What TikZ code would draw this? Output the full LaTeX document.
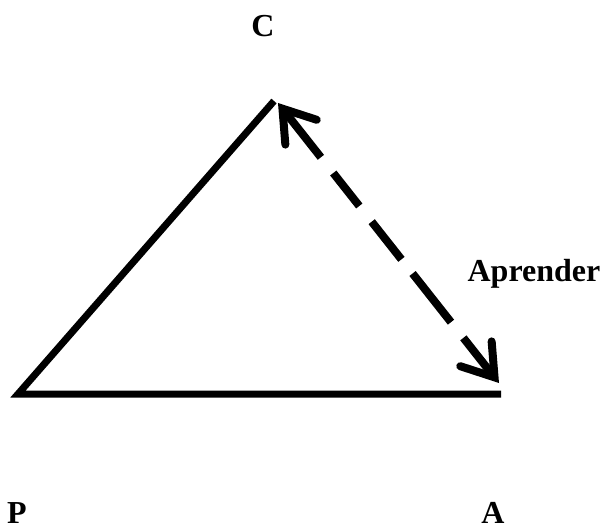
\documentclass[tikz,border=0pt]{standalone}
\usepackage{fontspec}
\setmainfont{Liberation Serif}
\usepackage{tikz}
\usetikzlibrary{arrows.meta}

\begin{document}
\begin{tikzpicture}[x=1pt,y=-1pt]

\tikzset{
tri/.style={
    line width=7pt,
    line join=miter
},
dasharr/.style={
    line width=8pt,
    dash pattern=on 58pt off 20pt on 42pt off 20pt on 48pt off 18pt on 62pt off 20pt on 200pt,
    {Straight Barb[length=30pt,width=40pt,line cap=round]}-{Straight Barb[length=30pt,width=40pt,line cap=round]}
},
lbl/.style={
    font=\fontsize{32}{38}\selectfont\bfseries,
    inner sep=0pt,
    anchor=base
}
}

\useasboundingbox (0,0) rectangle (605,529);

\coordinate (pv) at (18,394);
\coordinate (cv) at (274,101);
\coordinate (av) at (501,394);
\coordinate (ctip) at (278,103);
\coordinate (atip) at (499,383);

\draw[tri] (av) -- (pv) -- (cv);
\draw[dasharr] (ctip) -- (atip);

\node[lbl] (clbl) at (263,37) {C};
\node[lbl] (aprlbl) at (534,282) {Aprender};
\node[lbl] (plbl) at (17,523) {P};
\node[lbl] (albl) at (493,523) {A};

\end{tikzpicture}
\end{document}
